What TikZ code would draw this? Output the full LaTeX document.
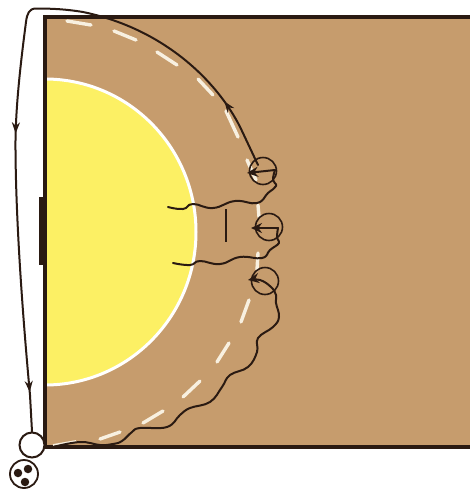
\documentclass[tikz,border=0pt]{standalone}
\usetikzlibrary{arrows.meta,decorations.markings}
\definecolor{court}{HTML}{C69C6D}
\definecolor{area}{HTML}{FCF064}
\definecolor{ink}{HTML}{2A1A12}
\definecolor{dashc}{HTML}{F8F0E0}
\tikzset{
  mover/.style={draw=ink,line width=2pt,line cap=round,line join=round},
  ringnode/.style={circle,draw=ink,line width=1.6pt,minimum size=27pt,inner sep=0pt},
  playernode/.style={circle,draw=ink,line width=2pt,fill=white,minimum size=25pt,inner sep=0pt},
  ballnode/.style={circle,fill=ink,minimum size=8.5pt,inner sep=0pt},
  dashline/.style={draw=dashc,line width=3.4pt,line cap=round},
  headat/.style={postaction={decorate,decoration={markings,mark=at position #1 with {\arrow{Stealth[length=11pt,width=8pt]}}}}},
  tiphead/.style={-{Stealth[length=11pt,width=10pt]}}
}
\begin{document}
\begin{tikzpicture}[x=1pt,y=-1pt]
\useasboundingbox (0,0) rectangle (470,491);
\fill[white] (0,0) rectangle (470,491);
% court
\fill[court] (45,17) rectangle (470,447);
% goal area
\begin{scope}
\clip (46,60) rectangle (220,400);
\fill[area,draw=white,line width=3pt] (45,232) ellipse [x radius=151,y radius=153];
\end{scope}
\draw[ink,line width=3.4pt] (470,17) -- (45,17) -- (45,447) -- (470,447);
\fill[ink] (39,197) rectangle (45,265);
% free-throw dashes
\foreach \a/\b/\c/\d in {67/21/91/25,114/31/136/40,157/52/177/65,198/79/213/95,226/111/238/137,
  247/160/256/180,258/205/259/217,258/253/257/270,249/300/241/322,229/343/217/362,
  200/381/183/397,163/411/143/423,120/432/100/439}
  \draw[dashline] (\a,\b) -- (\c,\d);
\draw[dashc,line width=1.8pt] (53,445) -- (76,441);
% small bar
\draw[ink,line width=2.8pt] (226,209) -- (226,242);
% players
\node[ringnode] (ringa) at (263,171) {};
\node[ringnode] (ringb) at (269,227) {};
\node[ringnode] (ringc) at (265,281) {};
\node[playernode] (player) at (32,445) {};
\node[circle,draw=ink,line width=1.8pt,fill=white,minimum size=28pt,inner sep=0pt] (balls) at (24,474) {};
\node[ballnode] (ba) at (18,473) {};
\node[ballnode] (bb) at (28,469) {};
\node[ballnode] (bc) at (25,482) {};
% coordinates
\coordinate (runend) at (258,165);
\coordinate (tipa) at (247,173);
\coordinate (tipb) at (251,228);
\coordinate (tipc) at (248,280);
\coordinate (wavea) at (168,207);
\coordinate (waveb) at (173,263);
\coordinate (wavec) at (53,447);
\coordinate (playertop) at (player.north);
% long run
\draw[mover,headat/.list={0.1,0.585,0.945}] (runend) -- (242,131)
  .. controls (222,88) and (170,30) .. (83,12)
  .. controls (65,9) and (50,8.5) .. (36,8.5)
  .. controls (29,8.5) and (27,14) .. (26,22)
  .. controls (21,60) and (15,110) .. (15.5,150)
  .. controls (16,230) and (24,330) .. (30,395)
  -- (playertop);
% wave a
\draw[mover] plot[smooth,tension=0.8] coordinates
 {(wavea) (183,209) (193,204) (213,208) (235,201) (257,203) (268,193) (276,186) (273,180) (275,170)};
\draw[mover,tiphead] (275,170) -- (tipa);
% wave b
\draw[mover] plot[smooth,tension=0.8] coordinates
 {(waveb) (190,265) (200,261) (220,264) (240,257) (262,258) (270,250) (279,243) (277,238) (278,228)};
\draw[mover,tiphead] (278,228) -- (tipb);
% wave c
\draw[mover,tiphead] plot[smooth,tension=0.7] coordinates
 {(wavec) (80,442) (100,445) (113,444) (122,441) (132,432) (140,428) (167,427) (180,415) (190,408) (210,402) (222,387) (230,375) (248,367) (257,352) (258,338) (273,327) (279,317) (276,303) (276,295) (271,287) (260,280) (tipc)};
\end{tikzpicture}
\end{document}
